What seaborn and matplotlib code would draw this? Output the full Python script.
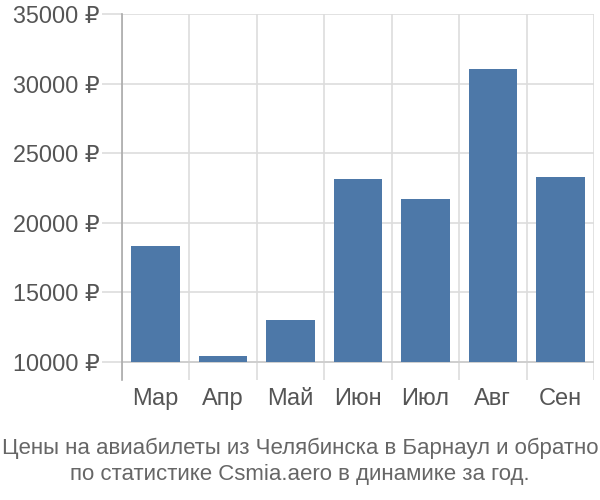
import matplotlib
matplotlib.use("Agg")
import matplotlib.pyplot as plt
import seaborn as sns
import pandas as pd
import numpy as np

months = ["Мар", "Апр", "Май", "Июн", "Июл", "Авг", "Сен"]
prices = [18350, 10430, 12980, 23150, 21680, 31050, 23300]
yticks = [10000, 15000, 20000, 25000, 30000, 35000]
baseline = 10000
title = "Цены на авиабилеты из Челябинска в Барнаул и обратно\nпо статистике Csmia.aero в динамике за год."

sns.set_theme(style="white")
plt.rcParams['font.family'] = ['Liberation Sans', 'DejaVu Sans']

df = pd.DataFrame({"month": months, "price": prices})
df["excess"] = df["price"] - baseline

fig = plt.figure(figsize=(6, 5), dpi=100)
ax = fig.add_axes([122/600, 1 - 380/500, (594-122)/600, (380-14)/500])

sns.barplot(data=df, x="month", y="excess", ax=ax, color="#4d78a8",
            saturation=1, width=0.72, bottom=baseline, zorder=3, linewidth=0)

ax.set_xlim(-0.5, len(months) - 0.5)
ax.set_ylim(8700, 35000)
ax.set_yticks(yticks)
ax.set_yticklabels([f"{v} ₽" for v in yticks])
ax.set_xlabel("")
ax.set_ylabel("")

# vertical gridlines at category boundaries
ax.set_xticks(np.arange(-0.5, len(months), 1.0), minor=True)
ax.grid(axis="x", which="minor", color="#dddddd", linewidth=1.2, zorder=0)
ax.grid(axis="y", which="major", color="#dddddd", linewidth=1.2, zorder=0)
ax.set_axisbelow(True)
ax.axhline(baseline, color="#cccccc", linewidth=1.2, zorder=1)

for s in ["top", "right", "bottom"]:
    ax.spines[s].set_visible(False)
ax.spines["left"].set_color("#aaaaaa")
ax.spines["left"].set_linewidth(1.2)

ax.tick_params(axis="y", which="major", length=14.4, width=1.2, color="#dddddd",
               pad=1.5, labelsize=16.8, labelcolor="#555555", left=True)
ax.tick_params(axis="x", which="major", length=0, pad=6, labelsize=17,
               labelcolor="#555555")
ax.tick_params(axis="x", which="minor", length=0)

fig.text(0.5, 1 - 461/500, title, ha="center", va="center", fontsize=16,
         color="#666666", linespacing=1.32)

fig.savefig("out.png", dpi=100)
